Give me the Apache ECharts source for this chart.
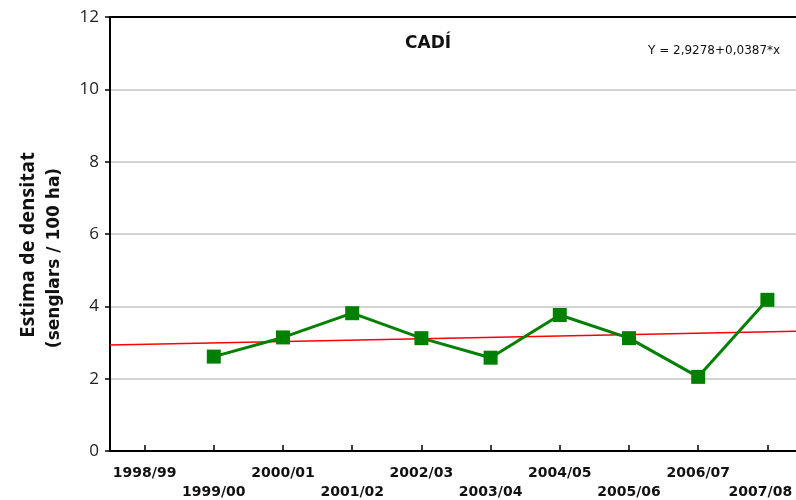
<!DOCTYPE html>
<html>
<head>
<meta charset="utf-8">
<script src="https://cdn.jsdelivr.net/npm/echarts@6/dist/echarts.min.js"></script>
<style>
  html, body { margin: 0; padding: 0; background: #fff; }
  #chart { width: 796px; height: 500px; }
</style>
</head>
<body>
<div id="chart"></div>
<script>
// Seasons on the horizontal axis
const seasons = ['1998/99', '1999/00', '2000/01', '2001/02', '2002/03',
                 '2003/04', '2004/05', '2005/06', '2006/07', '2007/08'];
// Density estimate (wild boar per 100 ha); no survey in 1998/99
const density = [null, 2.61, 3.14, 3.81, 3.12, 2.58, 3.76, 3.12, 2.05, 4.18];
// Linear trend: Y = a + b*x
const trendIntercept = 2.9278;
const trendSlope = 0.0387;
const trendX = [0, 10];
const yTicks = [0, 2, 4, 6, 8, 10, 12];

const SANS = '"Open Sans", "Noto Sans", sans-serif';
const WIDE = '"DejaVu Sans", Verdana, sans-serif';
const chart = echarts.init(document.getElementById('chart'));

const trendData = trendX.map(x => [x, trendIntercept + trendSlope * x]);

// labels alternate between two rows; the last one is nudged left to stay inside
function seasonLabel(v, i) {
  const txt = i === seasons.length - 1 ? '{last|' + v + '}' : v;
  return i % 2 === 1 ? '\n' + txt : txt;
}

chart.setOption({
  animation: false,
  backgroundColor: '#ffffff',
  grid: { left: 110, top: 17, width: 692, height: 434, containLabel: false,
          outerBoundsMode: 'none' },
  xAxis: [
    {
      type: 'category',
      data: seasons,
      boundaryGap: true,
      position: 'bottom',
      axisLine: { show: true, lineStyle: { color: '#000', width: 2 } },
      axisTick: { show: true, inside: true, length: 6, alignWithLabel: true,
                  lineStyle: { color: '#000', width: 1.5 } },
      axisLabel: {
        interval: 0, margin: 13,
        fontFamily: WIDE, fontWeight: 'bold', fontSize: 14, color: '#111',
        lineHeight: 19,
        formatter: seasonLabel,
        rich: {
          last: { fontFamily: WIDE, fontWeight: 'bold', fontSize: 14, color: '#111',
                  lineHeight: 19, padding: [0, 14, 0, 0] }
        }
      },
      splitLine: { show: false }
    },
    {
      // hidden numeric axis for the trend line, spanning the same width
      type: 'value',
      min: trendX[0], max: trendX[1],
      position: 'top',
      axisLine: { show: true, onZero: false, lineStyle: { color: '#000', width: 2 } },
      axisTick: { show: false },
      axisLabel: { show: false },
      splitLine: { show: false }
    }
  ],
  yAxis: {
    type: 'value',
    min: yTicks[0], max: yTicks[yTicks.length - 1], interval: 2,
    axisLine: { show: true, lineStyle: { color: '#000', width: 2 } },
    axisTick: { show: true, length: 5, lineStyle: { color: '#000', width: 1.5 } },
    axisLabel: { fontFamily: SANS, fontSize: 17, color: '#222', margin: 11 },
    splitLine: { show: true, lineStyle: { color: '#c4c4c4', width: 1.5 } }
  },
  series: [
    {
      name: 'trend',
      type: 'line',
      xAxisIndex: 1,
      data: trendData,
      symbol: 'none',
      lineStyle: { color: '#ff0000', width: 1.5 },
      z: 3
    },
    {
      name: 'density',
      type: 'line',
      xAxisIndex: 0,
      data: density,
      symbol: 'rect',
      symbolSize: 14,
      itemStyle: { color: '#008000' },
      lineStyle: { color: '#008000', width: 3 },
      connectNulls: false,
      z: 4
    }
  ],
  graphic: [
    {
      type: 'text', x: 405, y: 44,
      style: { text: 'CADÍ', fontFamily: WIDE, fontWeight: 'bold', fontSize: 17, fill: '#111',
               verticalAlign: 'middle' }
    },
    {
      type: 'text', x: 648, y: 51,
      style: { text: 'Y = 2,9278+0,0387*x', fontFamily: WIDE, fontSize: 12, fill: '#111',
               verticalAlign: 'middle' }
    },
    {
      type: 'text', x: 28, y: 245, rotation: Math.PI / 2,
      style: { text: 'Estima de densitat', fontFamily: SANS, fontWeight: 'bold', fontSize: 20,
               fill: '#111', align: 'center', verticalAlign: 'middle' }
    },
    {
      type: 'text', x: 55, y: 258, rotation: Math.PI / 2,
      style: { text: '(senglars / 100 ha)', fontFamily: WIDE, fontWeight: 'bold', fontSize: 17,
               fill: '#111', align: 'center', verticalAlign: 'middle' }
    }
  ]
});
</script>
</body>
</html>
